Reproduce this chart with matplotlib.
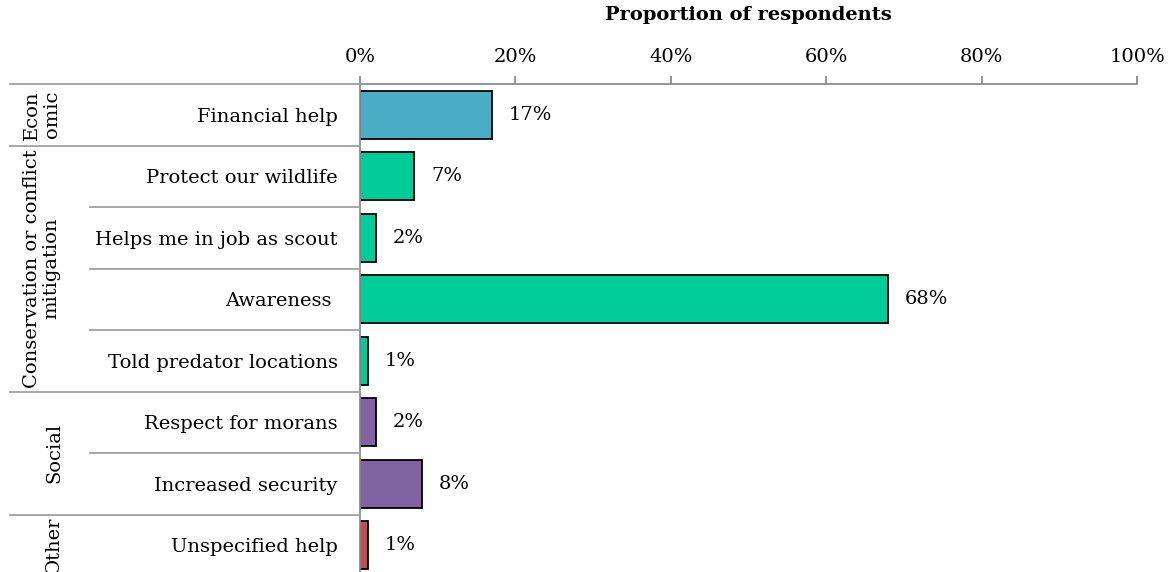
import matplotlib.pyplot as plt
from matplotlib.transforms import blended_transform_factory
from matplotlib.lines import Line2D

categories = ["Financial help", "Protect our wildlife", "Helps me in job as scout",
              "Awareness ", "Told predator locations", "Respect for morans",
              "Increased security", "Unspecified help"]
values = [17, 7, 2, 68, 1, 2, 8, 1]
groups = ["Econ\nomic", "Conservation or conflict\nmitigation", "Social", "Other"]
group_sizes = [1, 4, 2, 1]
group_colors = ["#4BACC6", "#00CC99", "#8064A2", "#C0504D"]
xticks = [0, 20, 40, 60, 80, 100]

plt.rcParams['font.family'] = ['DejaVu Serif']
plt.rcParams['font.size'] = 14

W, H = 1176, 572
fig = plt.figure(figsize=(W / 100, H / 100), dpi=100)
ax = fig.add_axes([360 / W, -4 / H, 777 / W, 492 / H])

colors = []
for c, n in zip(group_colors, group_sizes):
    colors += [c] * n

ypos = list(range(len(categories)))
ax.barh(ypos, values, height=0.78, color=colors, edgecolor="black", linewidth=1.3)
for y, v in zip(ypos, values):
    ax.annotate(f"{v}%", (v, y), xytext=(12, 0), textcoords="offset points",
                ha="left", va="center", fontsize=14)

ax.set_xlim(0, 100)
ax.set_ylim(len(categories) - 0.5, -0.5)
ax.xaxis.tick_top()
ax.set_xticks(xticks)
ax.set_xticklabels([f"{t}%" for t in xticks])
ax.tick_params(axis="x", direction="out", length=6, width=1.3, color="#8c8c8c", pad=7)
ax.set_yticks(ypos)
ax.set_yticklabels(categories)
ax.tick_params(axis="y", length=0, pad=16)
ax.set_title("Proportion of respondents", fontweight="bold", fontsize=14, pad=20)
for s in ["right", "bottom"]:
    ax.spines[s].set_visible(False)
for s in ["top", "left"]:
    ax.spines[s].set_color("#8c8c8c")
    ax.spines[s].set_linewidth(1.3)

# grouped category column on the left
tr = blended_transform_factory(fig.transFigure, ax.transData)
start = 0
for g, n in zip(groups, group_sizes):
    # full-width line above each group, short lines between its rows
    fig.add_artist(Line2D([10 / W, 360 / W], [start - 0.5, start - 0.5], transform=tr,
                          color="#a0a0a0", linewidth=1.3))
    for k in range(1, n):
        fig.add_artist(Line2D([90 / W, 360 / W], [start + k - 0.5] * 2, transform=tr,
                              color="#a0a0a0", linewidth=1.3))
    xc = 42 if "\n" in g else 54
    fig.text(xc / W, start + (n - 1) / 2, g, transform=tr, rotation=90,
             ha="center", va="center", multialignment="center", fontsize=14,
             linespacing=1.1)
    start += n

fig.savefig("out.png", dpi=100)
